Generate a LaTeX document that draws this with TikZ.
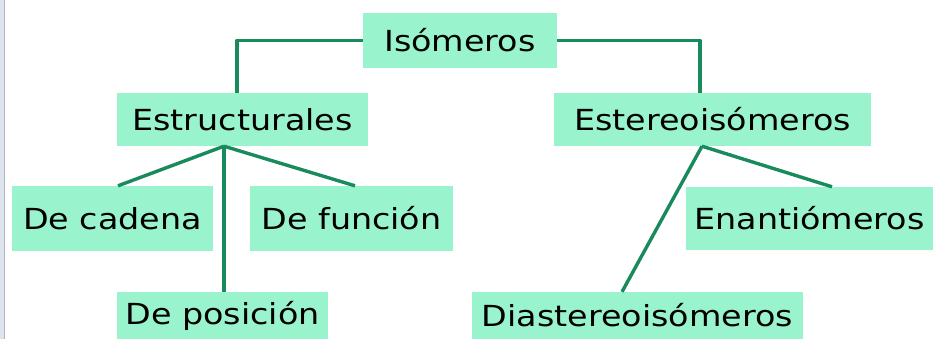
\documentclass[tikz,border=0pt]{standalone}
\usepackage{fontspec}
\setmainfont{DejaVu Sans}[FakeStretch=1.15]
\usepackage{xcolor}
\definecolor{boxgreen}{RGB}{153,243,204}
\definecolor{linegreen}{RGB}{24,138,92}
\definecolor{edgegrey}{RGB}{222,228,238}

\begin{document}
\begin{tikzpicture}[x=1pt,y=1pt]
\tikzstyle{every node}+=[inner sep=0pt]
\tikzstyle{tbox}=[fill=boxgreen, font=\fontsize{29}{31}\selectfont, text=black]
\tikzstyle{tline}=[draw=linegreen, line width=3.4pt]
\useasboundingbox (0,0) rectangle (933,-339);
\fill [white] (0,0) rectangle (933,-339);
\fill [edgegrey] (0,0) rectangle (5,-339);
\draw [edgegrey!80!black, line width=0.6pt] (4.5,0) -- (4.5,-339);
\node [tbox, minimum width=194pt, minimum height=55pt] (iso) at (460,-40.5) {Isómeros};
\node [tbox, minimum width=251pt, minimum height=53pt] (estr) at (242.5,-119.5) {Estructurales};
\node [tbox, minimum width=317pt, minimum height=53pt] (este) at (712.5,-119.5) {Estereoisómeros};
\node [tbox, minimum width=201pt, minimum height=65pt] (cad) at (112.5,-218.5) {De cadena};
\node [tbox, minimum width=203pt, minimum height=65pt] (fun) at (351.5,-218.5) {De función};
\node [tbox, minimum width=211pt, minimum height=47pt] (pos) at (222.5,-315.5) {De posición};
\node [tbox, minimum width=247pt, minimum height=63pt] (ena) at (809.5,-218.5) {Enantiómeros};
\node [tbox, minimum width=331pt, minimum height=47pt] (dia) at (637.5,-315.5) {Diastereoisómeros};
\coordinate (estrfork) at ([xshift=-18.5pt]estr.south);
\coordinate (estefork) at ([xshift=-10.5pt]este.south);
\draw [tline, line join=round] (iso.west) -| ([xshift=-5.5pt]estr.north);
\draw [tline, line join=round] (iso.east) -| ([xshift=-12.5pt]este.north);
\draw [tline] (estrfork) -- ([xshift=5.5pt]cad.north);
\draw [tline] (estrfork) -- ([xshift=3.5pt]fun.north);
\draw [tline] (estrfork) -- (estrfork |- pos.north);
\draw [tline] (estefork) -- ([xshift=22.5pt]ena.north);
\draw [tline] (estefork) -- ([xshift=-15.5pt]dia.north);
\end{tikzpicture}
\end{document}
